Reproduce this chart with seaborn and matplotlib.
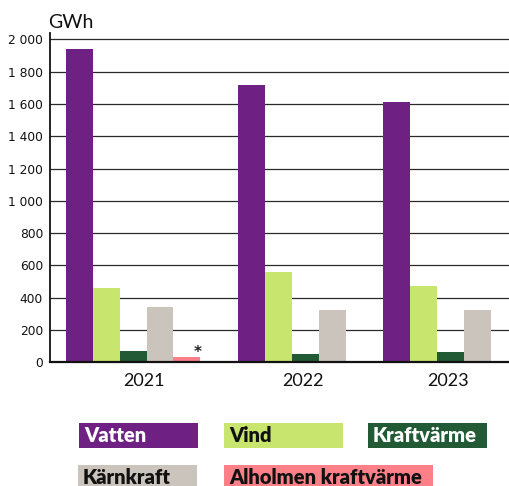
import numpy as np
import pandas as pd
import seaborn as sns
import matplotlib
matplotlib.use("Agg")
import matplotlib.pyplot as plt
from matplotlib.patches import Rectangle

# ---- data ----
years = ["2021", "2022", "2023"]
sources = ["Vatten", "Vind", "Kraftvärme", "Kärnkraft", "Alholmen kraftvärme"]
vatten = [1940, 1715, 1615]
vind = [458, 558, 470]
kraftvarme = [72, 50, 65]
karnkraft = [340, 322, 322]
alholmen = [30, np.nan, np.nan]
yticks = [0, 200, 400, 600, 800, 1000, 1200, 1400, 1600, 1800, 2000]
unit_label = "GWh"
note_mark = "*"

colors = ["#6F2183", "#C8E66E", "#235A36", "#CAC4BD", "#FD7F88"]
text_colors = ["white", "#111111", "white", "#111111", "#111111"]

series = [vatten, vind, kraftvarme, karnkraft, alholmen]

# ---- build packed bar table (missing bars are dropped, groups separated by a gap) ----
GAP = 1.4
rows = []
pos = 0.0
for yi, yr in enumerate(years):
    for si, src in enumerate(sources):
        v = series[si][yi]
        if not np.isnan(v):
            rows.append({"year": yr, "source": src, "value": v, "pos": pos})
            pos += 1
    pos += GAP
df = pd.DataFrame(rows)

W, H, DPI = 510, 486, 100
fig = plt.figure(figsize=(W / DPI, H / DPI), dpi=DPI)
ax = fig.add_axes([50 / W, 1 - 362.3 / H, 1 - 50 / W, (362.3 - 33) / H])

sns.barplot(data=df, x="pos", y="value", hue="source", hue_order=sources,
            palette=colors, native_scale=True, dodge=False, width=1.0,
            saturation=1, linewidth=0, legend=False, ax=ax, zorder=3)

ax.set_xlim(-1.09, 16.01)
ax.set_ylim(0, 2040)
ax.set_yticks(yticks)
ax.set_yticklabels([f"{v:,}".replace(",", " ") for v in yticks],
                   fontsize=8.8, family="DejaVu Sans", color="#111111")
ax.yaxis.grid(True, color="#2a2a2a", linewidth=0.9, zorder=0)
ax.set_axisbelow(True)
ax.tick_params(axis="y", length=0, pad=5)

centers = df.groupby("year", sort=False)["pos"].mean().values + 0.4
ax.set_xticks(centers)
ax.set_xticklabels(years, fontsize=13, family="Lato", color="#111111")
ax.tick_params(axis="x", length=0, pad=8)
ax.set_xlabel("")
ax.set_ylabel("")

for s in ["top", "right"]:
    ax.spines[s].set_visible(False)
ax.spines["left"].set_color("#111111")
ax.spines["left"].set_linewidth(1.3)
ax.spines["bottom"].set_color("#111111")
ax.spines["bottom"].set_linewidth(1.6)
ax.spines["bottom"].set_zorder(5)

# unit label
fig.text(48 / W, 1 - 28 / H, unit_label, fontsize=14, family="Lato",
         color="#111111", ha="left", va="baseline")

# note mark above the Alholmen bar
a = df[df["source"] == sources[4]].iloc[0]
ax.annotate(note_mark, xy=(a["pos"], a["value"]), xytext=(8, -1.5),
            textcoords="offset points", ha="center", va="bottom",
            fontsize=11, fontweight="bold", color="#222222")

# ---- custom legend: coloured boxes with text inside ----
leg_x = [79, 224, 368, 78, 224]
leg_y = [423, 423, 423, 465, 465]
leg_w = [119, 119, 119, 119, 209]
leg_h = 25
for i, src in enumerate(sources):
    x0, y0 = leg_x[i], leg_y[i]
    fig.add_artist(Rectangle((x0 / W, 1 - (y0 + leg_h) / H), leg_w[i] / W, leg_h / H,
                             transform=fig.transFigure, facecolor=colors[i],
                             edgecolor="none"))
    fig.text((x0 + 5) / W, 1 - (y0 + 19.3) / H, src, fontsize=14.5,
             family="Lato", fontweight="heavy", color=text_colors[i],
             ha="left", va="baseline")

fig.savefig("out.png", dpi=DPI)
